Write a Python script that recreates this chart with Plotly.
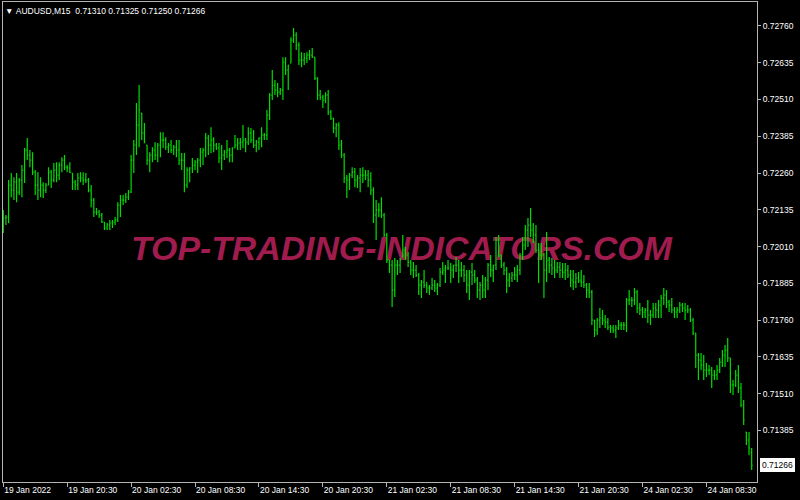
import plotly.graph_objects as go

# ---------------- data (prices in points, 1 point = 0.00001) ----------------
SYMBOL_TITLE = "AUDUSD,M15"
LAST_OHLC = ["0.71310", "0.71325", "0.71250", "0.71266"]

open_pts = [
    72083, 72107, 72110, 72219, 72202, 72229, 72195, 72236, 72270, 72338,
    72321, 72304, 72263, 72219, 72202, 72219, 72202, 72219, 72263, 72236,
    72270, 72253, 72287, 72304, 72280, 72277, 72260, 72229, 72219, 72243,
    72243, 72236, 72236, 72202, 72168, 72127, 72127, 72117, 72093, 72073,
    72083, 72090, 72093, 72100, 72151, 72168, 72168, 72178, 72195, 72304,
    72355, 72423, 72464, 72396, 72355, 72304, 72321, 72338, 72321, 72355,
    72372, 72372, 72348, 72355, 72338, 72348, 72338, 72304, 72304, 72219,
    72270, 72277, 72287, 72297, 72304, 72331, 72338, 72379, 72355, 72372,
    72355, 72345, 72311, 72321, 72331, 72338, 72321, 72345, 72355, 72362,
    72365, 72372, 72365, 72396, 72372, 72355, 72365, 72379, 72389, 72389,
    72457, 72525, 72559, 72542, 72535, 72542, 72637, 72610, 72634, 72712,
    72729, 72695, 72644, 72644, 72651, 72661, 72661, 72654, 72583, 72525,
    72518, 72508, 72525, 72467, 72447, 72413, 72423, 72355, 72321, 72243,
    72236, 72253, 72263, 72236, 72243, 72253, 72253, 72253, 72236, 72202,
    72117, 72134, 72134, 72117, 72049, 71964, 71947, 71862, 71947, 71947,
    71974, 71998, 71981, 71957, 71930, 71930, 71913, 71879, 71889, 71879,
    71869, 71869, 71879, 71869, 71879, 71923, 71930, 71937, 71937, 71930,
    71947, 71947, 71930, 71930, 71913, 71879, 71923, 71913, 71896, 71862,
    71879, 71862, 71896, 71947, 71930, 71947, 72032, 71981, 71947, 71930,
    71896, 71903, 71913, 71913, 71930, 71981, 72015, 72066, 72083, 72066,
    72049, 71998, 71981, 71981, 71930, 71964, 71947, 71937, 71930, 71940,
    71930, 71923, 71930, 71913, 71896, 71889, 71903, 71896, 71889, 71879,
    71862, 71855, 71760, 71726, 71760, 71767, 71760, 71753, 71736, 71733,
    71726, 71733, 71743, 71743, 71743, 71828, 71828, 71828, 71855, 71801,
    71794, 71787, 71794, 71777, 71777, 71801, 71794, 71811, 71835, 71845,
    71821, 71811, 71794, 71787, 71794, 71811, 71801, 71794, 71794, 71760,
    71716, 71641, 71624, 71607, 71590, 71590, 71590, 71573, 71573, 71590,
    71617, 71641, 71658, 71631, 71539, 71539, 71573, 71529, 71471, 71379,
    71352, 71310,
]

high_pts = [
    72134, 72117, 72236, 72260, 72246, 72260, 72243, 72287, 72345, 72379,
    72338, 72331, 72270, 72263, 72246, 72229, 72226, 72280, 72270, 72294,
    72297, 72297, 72314, 72321, 72287, 72297, 72260, 72236, 72260, 72263,
    72263, 72260, 72243, 72219, 72175, 72141, 72134, 72124, 72093, 72090,
    72100, 72100, 72110, 72161, 72185, 72185, 72192, 72202, 72321, 72372,
    72498, 72559, 72464, 72430, 72355, 72331, 72348, 72365, 72362, 72399,
    72399, 72382, 72362, 72372, 72355, 72372, 72372, 72328, 72328, 72280,
    72280, 72311, 72304, 72311, 72345, 72345, 72396, 72389, 72416, 72382,
    72362, 72362, 72355, 72338, 72372, 72345, 72348, 72389, 72379, 72379,
    72423, 72379, 72416, 72413, 72406, 72372, 72382, 72416, 72396, 72474,
    72532, 72610, 72576, 72566, 72549, 72654, 72654, 72627, 72722, 72753,
    72739, 72705, 72671, 72668, 72671, 72678, 72685, 72654, 72586, 72542,
    72525, 72535, 72542, 72474, 72447, 72430, 72433, 72372, 72328, 72253,
    72260, 72280, 72277, 72253, 72277, 72280, 72270, 72270, 72263, 72212,
    72168, 72158, 72178, 72124, 72056, 71964, 71964, 71971, 71964, 71971,
    72049, 72008, 71991, 71964, 71957, 71947, 71920, 71896, 71930, 71889,
    71879, 71903, 71896, 71886, 71937, 71957, 71947, 71964, 71954, 71947,
    71974, 71964, 71957, 71947, 71930, 71930, 71954, 71930, 71906, 71889,
    71913, 71906, 71954, 71981, 71947, 72042, 72049, 71981, 71957, 71940,
    71920, 71923, 71940, 71947, 71988, 72042, 72083, 72107, 72141, 72090,
    72083, 72022, 72022, 71988, 72059, 71974, 71971, 71964, 71957, 71957,
    71954, 71954, 71947, 71930, 71930, 71920, 71923, 71930, 71913, 71886,
    71886, 71862, 71760, 71767, 71801, 71794, 71777, 71767, 71743, 71743,
    71743, 71760, 71753, 71753, 71835, 71862, 71838, 71869, 71862, 71818,
    71804, 71801, 71828, 71794, 71818, 71818, 71828, 71845, 71869, 71862,
    71828, 71835, 71804, 71804, 71821, 71818, 71818, 71811, 71801, 71767,
    71716, 71648, 71648, 71641, 71614, 71607, 71600, 71590, 71607, 71631,
    71658, 71675, 71699, 71631, 71556, 71590, 71607, 71546, 71488, 71379,
    71379, 71325,
]

low_pts = [
    72056, 72083, 72090, 72178, 72168, 72161, 72185, 72178, 72226, 72304,
    72280, 72253, 72185, 72168, 72178, 72175, 72192, 72219, 72209, 72229,
    72229, 72236, 72263, 72270, 72263, 72260, 72202, 72202, 72202, 72229,
    72219, 72226, 72195, 72144, 72110, 72117, 72107, 72090, 72066, 72066,
    72066, 72073, 72083, 72093, 72110, 72151, 72158, 72168, 72192, 72260,
    72321, 72348, 72372, 72362, 72287, 72263, 72297, 72304, 72297, 72314,
    72345, 72338, 72328, 72328, 72321, 72314, 72287, 72270, 72195, 72209,
    72229, 72260, 72270, 72260, 72280, 72287, 72314, 72321, 72328, 72331,
    72338, 72294, 72270, 72304, 72311, 72297, 72297, 72345, 72338, 72338,
    72345, 72331, 72355, 72362, 72345, 72331, 72338, 72348, 72372, 72372,
    72440, 72508, 72525, 72518, 72525, 72508, 72593, 72542, 72634, 72702,
    72678, 72627, 72620, 72627, 72634, 72644, 72651, 72576, 72508, 72508,
    72481, 72498, 72457, 72440, 72396, 72382, 72338, 72311, 72226, 72175,
    72202, 72243, 72212, 72209, 72195, 72226, 72236, 72212, 72185, 72090,
    72032, 72110, 72107, 72042, 71954, 71920, 71804, 71838, 71913, 71920,
    71974, 71964, 71940, 71913, 71903, 71906, 71845, 71835, 71869, 71852,
    71845, 71862, 71855, 71845, 71872, 71913, 71886, 71930, 71886, 71903,
    71923, 71886, 71906, 71889, 71852, 71828, 71879, 71886, 71835, 71828,
    71835, 71835, 71862, 71906, 71889, 71930, 71974, 71937, 71913, 71852,
    71872, 71889, 71896, 71889, 71913, 71964, 71998, 72008, 72042, 72022,
    71988, 71886, 71964, 71835, 71889, 71920, 71913, 71903, 71920, 71903,
    71903, 71896, 71903, 71872, 71862, 71869, 71886, 71872, 71869, 71835,
    71835, 71743, 71702, 71709, 71733, 71743, 71733, 71726, 71716, 71716,
    71699, 71726, 71726, 71726, 71719, 71811, 71804, 71811, 71784, 71777,
    71767, 71767, 71750, 71743, 71767, 71767, 71767, 71767, 71811, 71801,
    71787, 71784, 71767, 71767, 71784, 71787, 71760, 71784, 71753, 71709,
    71597, 71556, 71590, 71556, 71566, 71573, 71529, 71556, 71556, 71580,
    71600, 71600, 71617, 71512, 71505, 71532, 71512, 71464, 71403, 71335,
    71301, 71250,
]

close_pts = [
    72107, 72110, 72219, 72202, 72229, 72195, 72236, 72270, 72338, 72321,
    72304, 72263, 72219, 72202, 72219, 72202, 72219, 72263, 72236, 72270,
    72253, 72287, 72304, 72280, 72277, 72263, 72229, 72219, 72243, 72243,
    72236, 72236, 72202, 72168, 72127, 72127, 72117, 72093, 72073, 72083,
    72090, 72093, 72100, 72151, 72168, 72168, 72178, 72195, 72304, 72355,
    72423, 72474, 72396, 72362, 72304, 72321, 72338, 72321, 72355, 72372,
    72372, 72348, 72355, 72338, 72348, 72338, 72304, 72304, 72219, 72270,
    72277, 72287, 72297, 72304, 72331, 72338, 72379, 72355, 72372, 72355,
    72345, 72311, 72321, 72331, 72338, 72321, 72345, 72355, 72362, 72365,
    72372, 72365, 72396, 72372, 72355, 72365, 72379, 72389, 72389, 72457,
    72525, 72559, 72542, 72535, 72542, 72637, 72610, 72627, 72712, 72729,
    72695, 72644, 72644, 72651, 72661, 72661, 72654, 72583, 72525, 72518,
    72508, 72525, 72467, 72447, 72413, 72423, 72355, 72321, 72243, 72236,
    72253, 72263, 72236, 72243, 72253, 72253, 72253, 72236, 72202, 72117,
    72134, 72134, 72117, 72049, 71964, 71947, 71862, 71947, 71947, 71964,
    71998, 71981, 71957, 71930, 71930, 71913, 71879, 71889, 71879, 71869,
    71869, 71879, 71869, 71879, 71923, 71930, 71937, 71937, 71930, 71947,
    71947, 71930, 71930, 71913, 71879, 71923, 71913, 71896, 71862, 71879,
    71862, 71896, 71947, 71930, 71947, 72032, 71981, 71947, 71930, 71896,
    71903, 71913, 71913, 71930, 71981, 72015, 72066, 72083, 72066, 72049,
    71998, 71981, 71981, 71930, 71964, 71947, 71937, 71930, 71940, 71930,
    71923, 71930, 71913, 71896, 71889, 71903, 71896, 71889, 71879, 71862,
    71855, 71760, 71726, 71760, 71767, 71760, 71753, 71736, 71733, 71726,
    71733, 71743, 71743, 71743, 71828, 71828, 71828, 71855, 71801, 71794,
    71787, 71794, 71777, 71777, 71801, 71794, 71811, 71835, 71845, 71821,
    71811, 71794, 71787, 71794, 71811, 71801, 71794, 71794, 71760, 71716,
    71641, 71624, 71607, 71590, 71590, 71590, 71573, 71573, 71590, 71617,
    71641, 71658, 71631, 71539, 71539, 71573, 71529, 71471, 71420, 71352,
    71325, 71266,
]

# time-axis labels (one every 24 M15 bars = 6 hours)
x_tick_bars = [0, 24, 48, 72, 96, 120, 144, 168, 192, 216, 240, 264]
x_tick_text = ["19 Jan 2022", "19 Jan 20:30", "20 Jan 02:30", "20 Jan 08:30",
               "20 Jan 14:30", "20 Jan 20:30", "21 Jan 02:30", "21 Jan 08:30",
               "21 Jan 14:30", "21 Jan 20:30", "24 Jan 02:30", "24 Jan 08:30"]

y_tick_vals = [0.72760, 0.72635, 0.72510, 0.72385, 0.72260, 0.72135,
               0.72010, 0.71885, 0.71760, 0.71635, 0.71510, 0.71385]
current_price = 0.71266

WATERMARK = "TOP-TRADING-INDICATORS.COM"

# ---------------- figure ----------------
POINT = 1e-5
o = [v * POINT for v in open_pts]
h = [v * POINT for v in high_pts]
l = [v * POINT for v in low_pts]
c = [v * POINT for v in close_pts]
bar_index = list(range(len(o)))

X_RANGE = [-0.1, 283.0]
Y_RANGE = [0.712092, 0.728416]

BAR_GREEN = "#00dc00"
AXIS_GREY = "#b4b4b4"
FONT = "Liberation Sans, Arial, sans-serif"

fig = go.Figure()

# watermark on the base subplot (drawn underneath the bars)
fig.add_trace(go.Scatter(
    x=[149.5], y=[0.71993], mode="text", text=[WATERMARK],
    textfont=dict(family=FONT, size=33.8, color="#a01c4e", weight="bold", style="italic"),
    hoverinfo="skip", showlegend=False, xaxis="x", yaxis="y",
))

fig.add_trace(go.Ohlc(
    x=bar_index, open=o, high=h, low=l, close=c,
    increasing=dict(line=dict(color=BAR_GREEN, width=1.2)),
    decreasing=dict(line=dict(color=BAR_GREEN, width=1.2)),
    tickwidth=0.35, showlegend=False, hoverinfo="skip",
    xaxis="x2", yaxis="y2",
))

fig.update_layout(
    width=800, height=500,
    paper_bgcolor="black", plot_bgcolor="black",
    margin=dict(l=3, r=43, t=2, b=18),
    showlegend=False,
    font=dict(family=FONT, size=8.5, color="white"),
    xaxis=dict(
        range=X_RANGE, showgrid=False, zeroline=False,
        showline=True, linecolor=AXIS_GREY, linewidth=1, mirror=True,
        ticks="outside", ticklen=4, tickcolor=AXIS_GREY, tickwidth=1,
        tickmode="array", tickvals=x_tick_bars, ticktext=x_tick_text,
        ticklabelposition="outside right",
        tickfont=dict(family=FONT, size=8.5, color="white"),
        fixedrange=True,
    ),
    yaxis=dict(
        range=Y_RANGE, side="right", showgrid=False, zeroline=False,
        showline=True, linecolor=AXIS_GREY, linewidth=1, mirror=True,
        ticks="outside", ticklen=3, tickcolor=AXIS_GREY, tickwidth=1,
        tickmode="array", tickvals=y_tick_vals,
        ticktext=[f"{v:.5f}" for v in y_tick_vals],
        tickfont=dict(family=FONT, size=8.5, color="white"),
        fixedrange=True,
    ),
    xaxis2=dict(range=X_RANGE, overlaying="x", visible=False,
                rangeslider=dict(visible=False), fixedrange=True),
    yaxis2=dict(range=Y_RANGE, overlaying="y", visible=False, fixedrange=True),
)

fig.add_annotation(
    xref="paper", yref="paper", x=0, y=1, xanchor="left", yanchor="top",
    xshift=0, yshift=-2, showarrow=False,
    text="\u25bc\u00a0" + SYMBOL_TITLE + "\u00a0\u00a0" + "\u00a0".join(LAST_OHLC),
    font=dict(family=FONT, size=8.5, color="white"),
)

fig.add_annotation(
    xref="paper", yref="y", x=1, y=current_price, xanchor="left", yanchor="middle",
    xshift=3, showarrow=False, text=f"{current_price:.5f}",
    bgcolor="white", bordercolor="white", borderpad=1,
    font=dict(family=FONT, size=8.5, color="black"),
)

fig.write_html(
    "out.html",
    config={"displayModeBar": False},
    post_script="document.body.style.margin='0';document.body.style.overflow='hidden';",
)
